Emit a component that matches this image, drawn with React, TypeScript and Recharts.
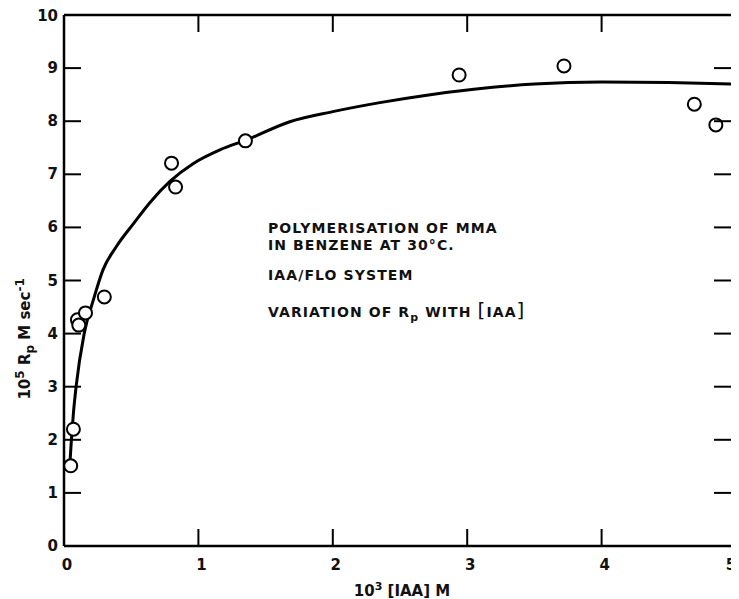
import React from "react";
import { ComposedChart, Line, Scatter, XAxis, YAxis, Label, ReferenceLine } from "recharts";

const curveX = [0.045, 0.055, 0.07, 0.09, 0.15, 0.218, 0.29, 0.39, 0.52, 0.64, 0.79, 0.96, 1.16, 1.36, 1.68, 2.0, 2.35, 2.7, 3.05, 3.5, 4.0, 4.5, 5.0];
const curveY = [1.6, 2.0, 2.5, 3.0, 4.0, 4.63, 5.2, 5.64, 6.08, 6.47, 6.87, 7.2, 7.46, 7.65, 7.99, 8.18, 8.35, 8.49, 8.6, 8.7, 8.74, 8.73, 8.7];
const pointX = [0.05, 0.07, 0.1, 0.11, 0.16, 0.3, 0.8, 0.83, 1.35, 2.94, 3.72, 4.69, 4.85];
const pointY = [1.51, 2.2, 4.26, 4.16, 4.39, 4.69, 7.21, 6.76, 7.63, 8.87, 9.04, 8.32, 7.93];
const xTicks = [0, 1, 2, 3, 4, 5];
const yTicks = [0, 1, 2, 3, 4, 5, 6, 7, 8, 9, 10];
const innerXTicks = [1, 2, 3, 4];
const annotation = ["POLYMERISATION OF MMA", "IN BENZENE AT 30°C.", "IAA/FLO SYSTEM"];

const curve = curveX.map((x, i) => ({ x, y: curveY[i] }));
const points = pointX.map((x, i) => ({ x, y: pointY[i] }));

const FONT = "'DejaVu Sans', sans-serif";
const TICK_LEN = 17;
const TOP_TICK_UNITS = 0.32;

const BottomTick = (props: any) => {
  const { x, y, payload } = props;
  const v = payload.value;
  const inner = v !== 0 && v !== 5;
  return (
    <g>
      {inner && <line x1={x} x2={x} y1={y} y2={y - TICK_LEN} stroke="#000" strokeWidth={2} />}
      <text x={v === 5 ? x - 5 : x + 3} y={y + 24} textAnchor="middle" fontFamily={FONT} fontWeight="bold" fontSize={15} fill="#111">
        {v}
      </text>
    </g>
  );
};

const LeftTick = (props: any) => {
  const { x, y, payload } = props;
  const v = payload.value;
  return (
    <g>
      {v !== 0 && v !== 10 && <line x1={x} x2={x + TICK_LEN} y1={y} y2={y} stroke="#000" strokeWidth={2} />}
      <text x={x - 6} y={y + (v === 10 ? 6 : 5)} textAnchor="end" fontFamily={FONT} fontWeight="bold" fontSize={15} fill="#111">
        {v}
      </text>
    </g>
  );
};

const RightTick = (props: any) => {
  const { x, y, payload } = props;
  const v = payload.value;
  if (v === 0 || v === 10) return <g />;
  return <line x1={x} x2={x - 22} y1={y} y2={y} stroke="#000" strokeWidth={2} />;
};

const XLabel = (props: any) => {
  const vb = props.viewBox;
  const cx = vb.x + vb.width / 2 + 2;
  const y = vb.y + 50;
  return (
    <text x={cx} y={y} textAnchor="middle" fontFamily={FONT} fontWeight="bold" fontSize={15} fill="#111">
      10<tspan dy={-6} fontSize={11}>3</tspan>
      <tspan dy={6}> [IAA] M</tspan>
    </text>
  );
};

const YLabel = (props: any) => {
  const vb = props.viewBox;
  const cx = vb.x + 22;
  const cy = vb.y + vb.height * 0.61;
  return (
    <text
      x={cx}
      y={cy}
      transform={`rotate(-90 ${cx} ${cy})`}
      textAnchor="middle"
      fontFamily={FONT}
      fontWeight="bold"
      fontSize={15}
      fill="#111"
    >
      10<tspan dy={-6} fontSize={12}>5</tspan>
      <tspan dy={6}> R</tspan>
      <tspan dy={4} fontSize={12}>p</tspan>
      <tspan dy={-4}> M sec</tspan>
      <tspan dy={-6} fontSize={12}>-1</tspan>
    </text>
  );
};

const textStyle: React.CSSProperties = {
  position: "absolute",
  left: 260,
  fontFamily: FONT,
  fontSize: 14,
  fontWeight: "bold",
  letterSpacing: 1.1,
  color: "#111",
  whiteSpace: "nowrap",
  lineHeight: "16px",
};

export default function App() {
  return (
    <div style={{ position: "relative", width: 731, height: 591 }}>
      <ComposedChart
        width={731}
        height={591}
        margin={{ top: 6, right: 2, bottom: 0, left: 0 }}
        style={{ overflow: "visible" }}
      >
        <XAxis
          xAxisId={0}
          dataKey="x"
          type="number"
          domain={[0, 5]}
          ticks={xTicks}
          interval={0}
          height={53}
          tickSize={0}
          tickMargin={0}
          tickLine={false}
          axisLine={{ stroke: "#000", strokeWidth: 2.5 }}
          tick={<BottomTick />}
          allowDataOverflow
        >
          <Label content={<XLabel />} />
        </XAxis>
        <XAxis
          xAxisId="top"
          orientation="top"
          dataKey="x"
          type="number"
          domain={[0, 5]}
          ticks={xTicks}
          interval={0}
          height={1}
          tick={false}
          tickLine={false}
          axisLine={{ stroke: "#000", strokeWidth: 2.5 }}
          allowDataOverflow
        />
        <YAxis
          yAxisId={0}
          type="number"
          domain={[0, 10]}
          ticks={yTicks}
          interval={0}
          width={56}
          tickSize={0}
          tickMargin={0}
          tickLine={false}
          axisLine={{ stroke: "#000", strokeWidth: 2.5 }}
          tick={<LeftTick />}
          allowDataOverflow
        >
          <Label content={<YLabel />} />
        </YAxis>
        <YAxis
          yAxisId="right"
          orientation="right"
          type="number"
          domain={[0, 10]}
          ticks={yTicks}
          interval={0}
          width={1}
          tickSize={0}
          tickMargin={0}
          tickLine={false}
          axisLine={{ stroke: "#000", strokeWidth: 2.5 }}
          tick={<RightTick />}
          allowDataOverflow
        />
        {innerXTicks.map((t) => (
          <ReferenceLine
            key={`top-tick-${t}`}
            xAxisId={0}
            yAxisId={0}
            segment={[
              { x: t, y: 10 },
              { x: t, y: 10 - TOP_TICK_UNITS },
            ]}
            stroke="#000"
            strokeWidth={2}
            ifOverflow="visible"
          />
        ))}
        <Line
          xAxisId={0}
          yAxisId={0}
          data={curve}
          dataKey="y"
          type="monotone"
          stroke="#000"
          strokeWidth={3}
          dot={false}
          isAnimationActive={false}
        />
        <Scatter
          xAxisId="top"
          yAxisId="right"
          data={points}
          dataKey="y"
          shape={(p: any) => <circle cx={p.cx} cy={p.cy} r={6.5} fill="#fff" stroke="#000" strokeWidth={2} />}
          isAnimationActive={false}
        />
      </ComposedChart>
      <div style={{ ...textStyle, top: 212 }}>{annotation[0]}</div>
      <div style={{ ...textStyle, top: 229 }}>{annotation[1]}</div>
      <div style={{ ...textStyle, top: 259 }}>{annotation[2]}</div>
      <div style={{ ...textStyle, top: 294 }}>
        VARIATION OF R<sub style={{ fontSize: 11, verticalAlign: "-4px" }}>p</sub> WITH{" "}
        <span style={{ fontSize: 20, fontWeight: "normal" }}>[</span>IAA<span style={{ fontSize: 20, fontWeight: "normal" }}>]</span>
      </div>
    </div>
  );
}
